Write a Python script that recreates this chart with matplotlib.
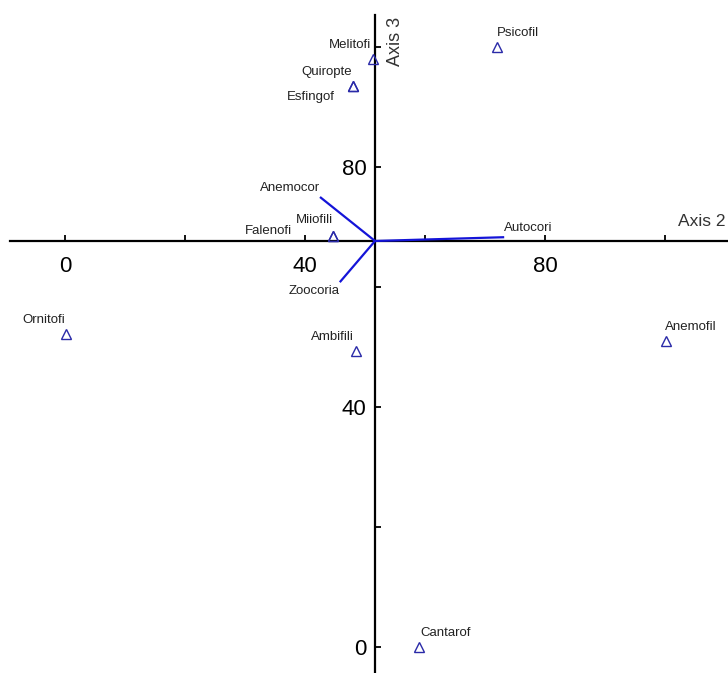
import matplotlib
matplotlib.use("Agg")
import matplotlib.pyplot as plt
from matplotlib.ticker import MultipleLocator

plt.rcParams['font.family'] = ['Liberation Sans', 'DejaVu Sans']

# ---- data ----
species = ["Psicofil", "Melitofi", "Quiropte", "Esfingof", "Miiofili",
           "Falenofi", "Ornitofi", "Ambifili", "Anemofil", "Cantarof"]
sp_x = [72.0, 51.3, 48.0, 48.0, 44.7, 44.7, 0.1, 48.5, 100.1, 59.0]
sp_y = [100.0, 98.0, 93.5, 93.5, 68.5, 68.5, 52.2, 49.3, 51.0, 0.0]

env_names = ["Anemocor", "Zoocoria", "Autocori"]
env_x = [42.5, 45.8, 73.2]
env_y = [75.0, 60.8, 68.3]

origin_x = 51.67
origin_y = 67.67

x_major = [0, 40, 80]
y_major = [0, 40, 80]

# ---- layout (pixel offsets of labels: dx, dy(up), ha) ----
sp_off = {
    "Psicofil": (0, 14, "left"),
    "Melitofi": (-2, 14, "right"),
    "Quiropte": (-1, 14, "right"),
    "Esfingof": (-18, -11, "right"),
    "Miiofili": (0, 16, "right"),
    "Falenofi": (-41, 5, "right"),
    "Ornitofi": (0, 14, "right"),
    "Ambifili": (-2, 14, "right"),
    "Anemofil": (-1, 14, "left"),
    "Cantarof": (1, 14, "left"),
}
env_off = {
    "Anemocor": (0, 9, "right"),
    "Zoocoria": (0, -9, "right"),
    "Autocori": (0, 9, "left"),
}

W, H = 728, 673
fig = plt.figure(figsize=(W / 100, H / 100), dpi=100)
ax = fig.add_axes([0, 0, 1, 1])
ppu = 6.0  # pixels per unit
ax.set_xlim((0 - 65) / ppu, (W - 65) / ppu)
ax.set_ylim((647 - H) / ppu, 647 / ppu)

for s in ["top", "right"]:
    ax.spines[s].set_visible(False)
ax.spines["bottom"].set_position(("data", origin_y))
ax.spines["left"].set_position(("data", origin_x))
ax.spines["bottom"].set_bounds((10 - 65) / ppu, (W - 65) / ppu)
ax.spines["left"].set_bounds((647 - H) / ppu, (647 - 15) / ppu)
for s in ["bottom", "left"]:
    ax.spines[s].set_linewidth(1.6)
    ax.spines[s].set_color("black")
    ax.spines[s].set_zorder(1)

ax.xaxis.set_major_locator(matplotlib.ticker.FixedLocator(x_major))
ax.yaxis.set_major_locator(matplotlib.ticker.FixedLocator(y_major))
ax.xaxis.set_minor_locator(MultipleLocator(20))
ax.yaxis.set_minor_locator(MultipleLocator(20))
ax.tick_params(which="both", direction="in", length=4, width=1.3, color="black")
ax.tick_params(axis="x", which="major", pad=11, labelsize=16)
ax.tick_params(axis="y", which="major", pad=6, labelsize=16)

ax.plot(sp_x, sp_y, linestyle="none", marker="^", markersize=7,
        markerfacecolor="none", markeredgecolor="#2a2aa8", markeredgewidth=1.0,
        zorder=3)

k = 0.72
for name, x, y in zip(species, sp_x, sp_y):
    dx, dy, ha = sp_off[name]
    ax.annotate(name, (x, y), xytext=(dx * k, dy * k), textcoords="offset points",
                ha=ha, va="center", fontsize=9.5, color="#222222")

for name, x, y in zip(env_names, env_x, env_y):
    ax.plot([origin_x, x], [origin_y, y], color="#1414d8", lw=1.6, zorder=2,
            solid_capstyle="butt")
    dx, dy, ha = env_off[name]
    ax.annotate(name, (x, y), xytext=(dx * k, dy * k), textcoords="offset points",
                ha=ha, va="center", fontsize=9.5, color="#222222")

ax.text((726 - 65) / ppu, (647 - 222) / ppu, "Axis 2", ha="right", va="center",
        fontsize=12.5, color="#333333")
ax.text((395 - 65) / ppu, (647 - 41) / ppu, "Axis 3", ha="center", va="center",
        rotation=90, fontsize=13, color="#333333")

fig.savefig("out.png", dpi=100)
